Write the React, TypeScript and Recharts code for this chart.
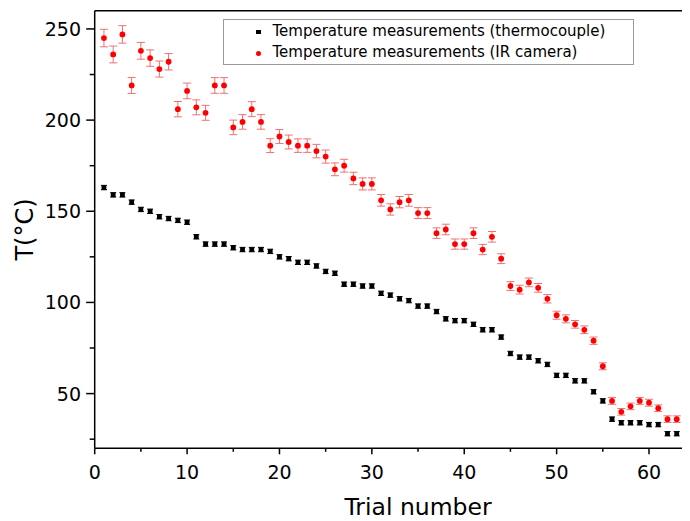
import React from 'react';
import { ScatterChart, Scatter, XAxis, YAxis, ErrorBar, ReferenceLine, Legend } from 'recharts';

const trials = [
  1, 2, 3, 4, 5, 6, 7, 8, 9, 10, 11, 12, 13, 14, 15, 16, 17, 18, 19, 20, 21,
  22, 23, 24, 25, 26, 27, 28, 29, 30, 31, 32, 33, 34, 35, 36, 37, 38, 39, 40, 41, 42,
  43, 44, 45, 46, 47, 48, 49, 50, 51, 52, 53, 54, 55, 56, 57, 58, 59, 60, 61, 62, 63,
];

const thermocouple = [
  163, 159, 159, 155, 151, 150, 147, 146, 145, 144, 136, 132, 132, 132, 130, 129, 129, 129, 128, 125, 124,
  122, 122, 120, 117, 116, 110, 110, 109, 109, 105, 104, 102, 101, 98, 98, 95, 91, 90, 90, 88, 85,
  85, 81, 72, 70, 70, 68, 66, 60, 60, 57, 57, 51, 46, 36, 34, 34, 34, 33, 33, 28, 28,
];
const thermocoupleErr = [
  1.2, 1.2, 1.2, 1.2, 1.2, 1.2, 1.2, 1.2, 1.2, 1.2, 1.2, 1.2, 1.2, 1.2, 1.2, 1.2, 1.2, 1.2, 1.2, 1.2, 1.2,
  1.2, 1.2, 1.2, 1.2, 1.2, 1.2, 1.2, 1.2, 1.2, 1.2, 1.2, 1.2, 1.2, 1.2, 1.2, 1.2, 1.2, 1.2, 1.2, 1.2, 1.2,
  1.2, 1.2, 1.2, 1.2, 1.2, 1.2, 1.2, 1.2, 1.2, 1.2, 1.2, 1.2, 1.2, 1.2, 1.2, 1.2, 1.2, 1.2, 1.2, 1.2, 1.2,
];

const irCamera = [
  245, 236, 247, 219, 238, 234, 228, 232, 206, 216, 207, 204, 219, 219, 196, 199, 206, 199, 186, 191, 188,
  186, 186, 183, 180, 173, 175, 168, 165, 165, 156, 151, 155, 156, 149, 149, 138, 140, 132, 132, 138, 129,
  136, 124, 109, 107, 111, 108, 102, 93, 91, 88, 85, 79, 65, 46, 40, 43, 46, 45, 42, 36, 36,
];
const irCameraErr = [
  4.8, 4.6, 4.8, 4.4, 4.6, 4.5, 4.4, 4.5, 4.2, 4.3, 4.1, 4.1, 4.3, 4.3, 4.0, 4.0, 4.1, 4.0, 3.8, 3.8, 3.8,
  3.7, 3.7, 3.7, 3.6, 3.5, 3.5, 3.4, 3.3, 3.3, 3.2, 3.1, 3.1, 3.2, 3.0, 3.0, 2.9, 2.9, 2.8, 2.8, 2.9, 2.8,
  2.9, 2.7, 2.4, 2.4, 2.4, 2.4, 2.3, 2.2, 2.2, 2.1, 2.1, 2.0, 1.9, 1.9, 1.8, 1.8, 1.9, 1.9, 1.8, 1.8, 1.8,
];

const xTicks = [0, 5, 10, 15, 20, 25, 30, 35, 40, 45, 50, 55, 60, 65];
const yTicks = [25, 50, 75, 100, 125, 150, 175, 200, 225, 250];

const seriesNames = ['Temperature measurements (thermocouple)', 'Temperature measurements (IR camera)'];

const tcData = trials.map((t, i) => ({ trial: t, temp: thermocouple[i], err: thermocoupleErr[i] }));
const irData = trials.map((t, i) => ({ trial: t, temp: irCamera[i], err: irCameraErr[i] }));

const FONT = '"DejaVu Sans", sans-serif';

const XTick = ({ x, y, payload }: any) => {
  const major = payload.value % 10 === 0;
  return (
    <g>
      <line x1={x} x2={x} y1={y} y2={y + (major ? 6 : 3.5)} stroke="#000" strokeWidth={1.5} />
      {major && (
        <text x={x} y={y + 31} textAnchor="middle" fontFamily={FONT} fontSize={19} fill="#000">
          {payload.value}
        </text>
      )}
    </g>
  );
};

const YTick = ({ x, y, payload }: any) => {
  const major = payload.value % 50 === 0;
  return (
    <g>
      <line x1={x - (major ? 8.5 : 5)} x2={x} y1={y} y2={y} stroke="#000" strokeWidth={1.5} />
      {major && (
        <text x={x - 13.7} y={y + 7} textAnchor="end" fontFamily={FONT} fontSize={19} fill="#000">
          {payload.value}
        </text>
      )}
    </g>
  );
};

const xLabel = (props: any) => {
  const vb = props.viewBox;
  return (
    <text x={vb.x + vb.width / 2} y={vb.y + 66.7} textAnchor="middle" fontFamily={FONT} fontSize={23.5} fill="#000">
      Trial number
    </text>
  );
};

const yLabel = (props: any) => {
  const vb = props.viewBox;
  const cx = vb.x + 10.3;
  const cy = vb.y + vb.height / 2;
  return (
    <text x={cx} y={cy} transform={`rotate(-90, ${cx}, ${cy})`} textAnchor="middle" dominantBaseline="central"
      fontFamily={FONT} fontSize={24} fill="#000">
      T(°C)
    </text>
  );
};

const renderLegend = () => (
  <div style={{
    boxSizing: 'border-box', width: 411, height: 46, border: '1.5px solid #9a9a9a', background: '#fff',
    position: 'relative', fontFamily: FONT, fontSize: 15, color: '#000',
  }}>
    <div style={{ position: 'absolute', left: 32.5, top: 9.5, width: 4.5, height: 4.5, background: '#000' }} />
    <div style={{ position: 'absolute', left: 48.8, top: 0.5, lineHeight: '21px', whiteSpace: 'nowrap' }}>{seriesNames[0]}</div>
    <div style={{ position: 'absolute', left: 32.3, top: 31, width: 5.2, height: 5.2, borderRadius: '50%', background: '#ff0000' }} />
    <div style={{ position: 'absolute', left: 48.8, top: 22, lineHeight: '21px', whiteSpace: 'nowrap' }}>{seriesNames[1]}</div>
  </div>
);

const Square = (props: any) => (
  <rect x={props.cx - 2.4} y={props.cy - 2.3} width={4.8} height={4.6} fill="#000" />
);
const Dot = (props: any) => <circle cx={props.cx} cy={props.cy} r={2.9} fill="#ff0000" />;

export default function App() {
  return (
    <div style={{ width: 682, height: 513, overflow: 'hidden', position: 'relative' }}>
      <ScatterChart width={750} height={513} margin={{ top: 2.7, right: 16.6, bottom: 0, left: 6.7 }}>
        <XAxis
          type="number" dataKey="trial" domain={[0, 70]} ticks={xTicks} interval={0}
          height={72.7} tickSize={0} tickMargin={0} tickLine={false}
          axisLine={{ stroke: '#000', strokeWidth: 1.5 }} tick={<XTick />} label={xLabel}
        />
        <YAxis
          type="number" dataKey="temp" domain={[20, 260]} ticks={yTicks} interval={0}
          width={80} tickSize={0} tickMargin={0} tickLine={false}
          axisLine={{ stroke: '#000', strokeWidth: 1.5 }} tick={<YTick />} label={yLabel}
        />
        <ReferenceLine y={260} stroke="#000" strokeWidth={1.5} />
        <Legend
          layout="vertical" align="center" verticalAlign="middle"
          wrapperStyle={{ left: 214.7, top: 11.3, width: 411 }}
          content={renderLegend}
        />
        <Scatter name={seriesNames[0]} data={tcData} shape={Square} isAnimationActive={false}>
          <ErrorBar dataKey="err" direction="y" width={3} stroke="#000" strokeWidth={1} isAnimationActive={false} />
        </Scatter>
        <Scatter name={seriesNames[1]} data={irData} shape={Dot} isAnimationActive={false}>
          <ErrorBar dataKey="err" direction="y" width={4} stroke="#f07070" strokeWidth={1} isAnimationActive={false} />
        </Scatter>
      </ScatterChart>
    </div>
  );
}
